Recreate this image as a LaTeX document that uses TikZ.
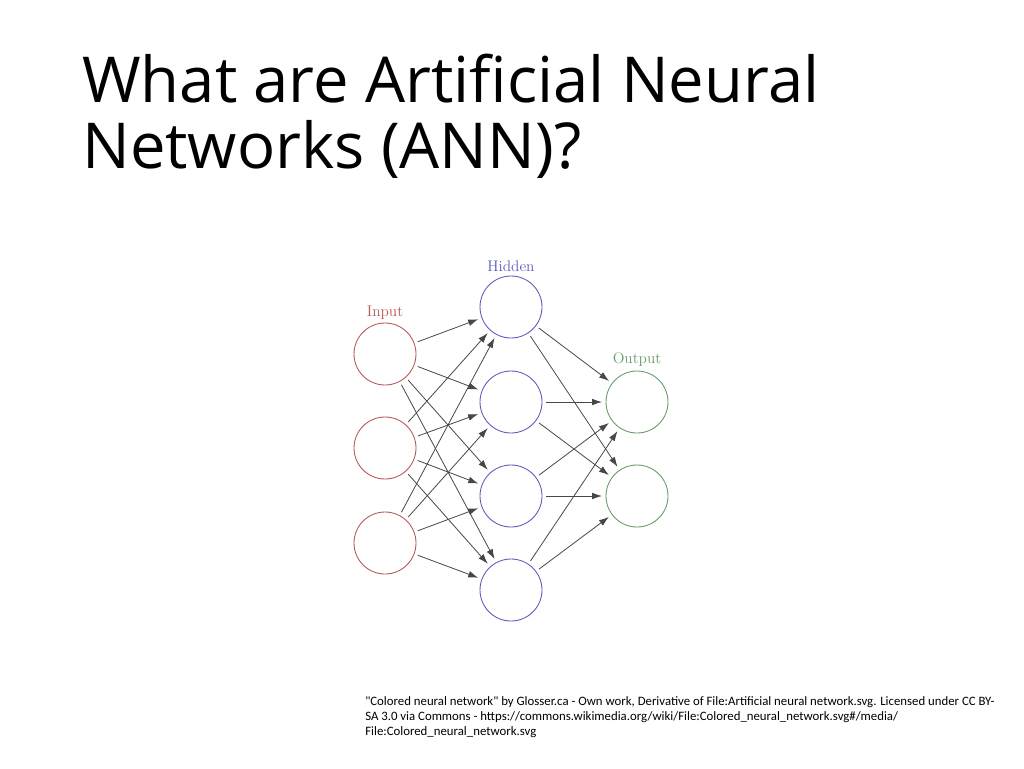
\documentclass[tikz,border=0pt]{standalone}
\usepackage{fontspec}
\newfontfamily\titlefont{Open Sans}
\newfontfamily\notefont{Carlito}
\usetikzlibrary{arrows.meta}

\definecolor{inred}{RGB}{185,85,85}
\definecolor{hidblue}{RGB}{90,90,190}
\definecolor{outgreen}{RGB}{100,155,100}

\begin{document}
\begin{tikzpicture}[x=0.75pt, y=-0.75pt,
    neuron/.style={circle, draw, line width=0.65pt, minimum size=46.5pt, inner sep=0pt, outer sep=3pt},
    layer/.style={font=\fontsize{11.5}{13}\selectfont, anchor=base, inner sep=0pt},
    link/.style={-{Latex[length=7.5pt, width=5pt]}, line width=0.6pt, black!72}]
    \useasboundingbox (0, 0) rectangle (1024, 768);

    % title
    \node[anchor=base west, inner sep=0pt, font=\titlefont\fontsize{47.5}{49}\selectfont] at (82, 102) (title1) {What are Artificial Neural};
    \node[anchor=base west, inner sep=0pt, font=\titlefont\fontsize{47.5}{49}\selectfont] at (82, 168) (title2) {Networks (ANN)?};

    % layers
    \node[neuron, inred] at (385, 354) (in1) {};
    \node[neuron, inred] at (385, 448) (in2) {};
    \node[neuron, inred] at (385, 543) (in3) {};
    \node[neuron, hidblue] at (511, 307) (hid1) {};
    \node[neuron, hidblue] at (511, 402) (hid2) {};
    \node[neuron, hidblue] at (511, 496) (hid3) {};
    \node[neuron, hidblue] at (511, 590) (hid4) {};
    \node[neuron, outgreen] at (637, 402) (out1) {};
    \node[neuron, outgreen] at (637, 496) (out2) {};

    \node[layer, inred] at (385, 316) (inlabel) {Input};
    \node[layer, hidblue] at (511, 271) (hidlabel) {Hidden};
    \node[layer, outgreen] at (637, 363) (outlabel) {Output};

    % input -> hidden
    \draw[link] (in1) -- (hid1);
    \draw[link] (in1) -- (hid2);
    \draw[link] (in1) -- (hid3);
    \draw[link] (in1) -- (hid4);
    \draw[link] (in2) -- (hid1);
    \draw[link] (in2) -- (hid2);
    \draw[link] (in2) -- (hid3);
    \draw[link] (in2) -- (hid4);
    \draw[link] (in3) -- (hid1);
    \draw[link] (in3) -- (hid2);
    \draw[link] (in3) -- (hid3);
    \draw[link] (in3) -- (hid4);

    % hidden -> output
    \draw[link] (hid1) -- (out1);
    \draw[link] (hid1) -- (out2);
    \draw[link] (hid2) -- (out1);
    \draw[link] (hid2) -- (out2);
    \draw[link] (hid3) -- (out1);
    \draw[link] (hid3) -- (out2);
    \draw[link] (hid4) -- (out1);
    \draw[link] (hid4) -- (out2);

    % credit (base anchor sits on the last line)
    \node[anchor=base west, inner sep=0pt, align=left, font=\notefont\fontsize{9.6}{11.25}\selectfont] at (365, 735) (credit) {"Colored neural network" by Glosser.ca - Own work, Derivative of File:Artificial neural network.svg. Licensed under CC BY-\\SA 3.0 via Commons - https://commons.wikimedia.org/wiki/File:Colored\_neural\_network.svg\#/media/\\File:Colored\_neural\_network.svg};
\end{tikzpicture}
\end{document}
